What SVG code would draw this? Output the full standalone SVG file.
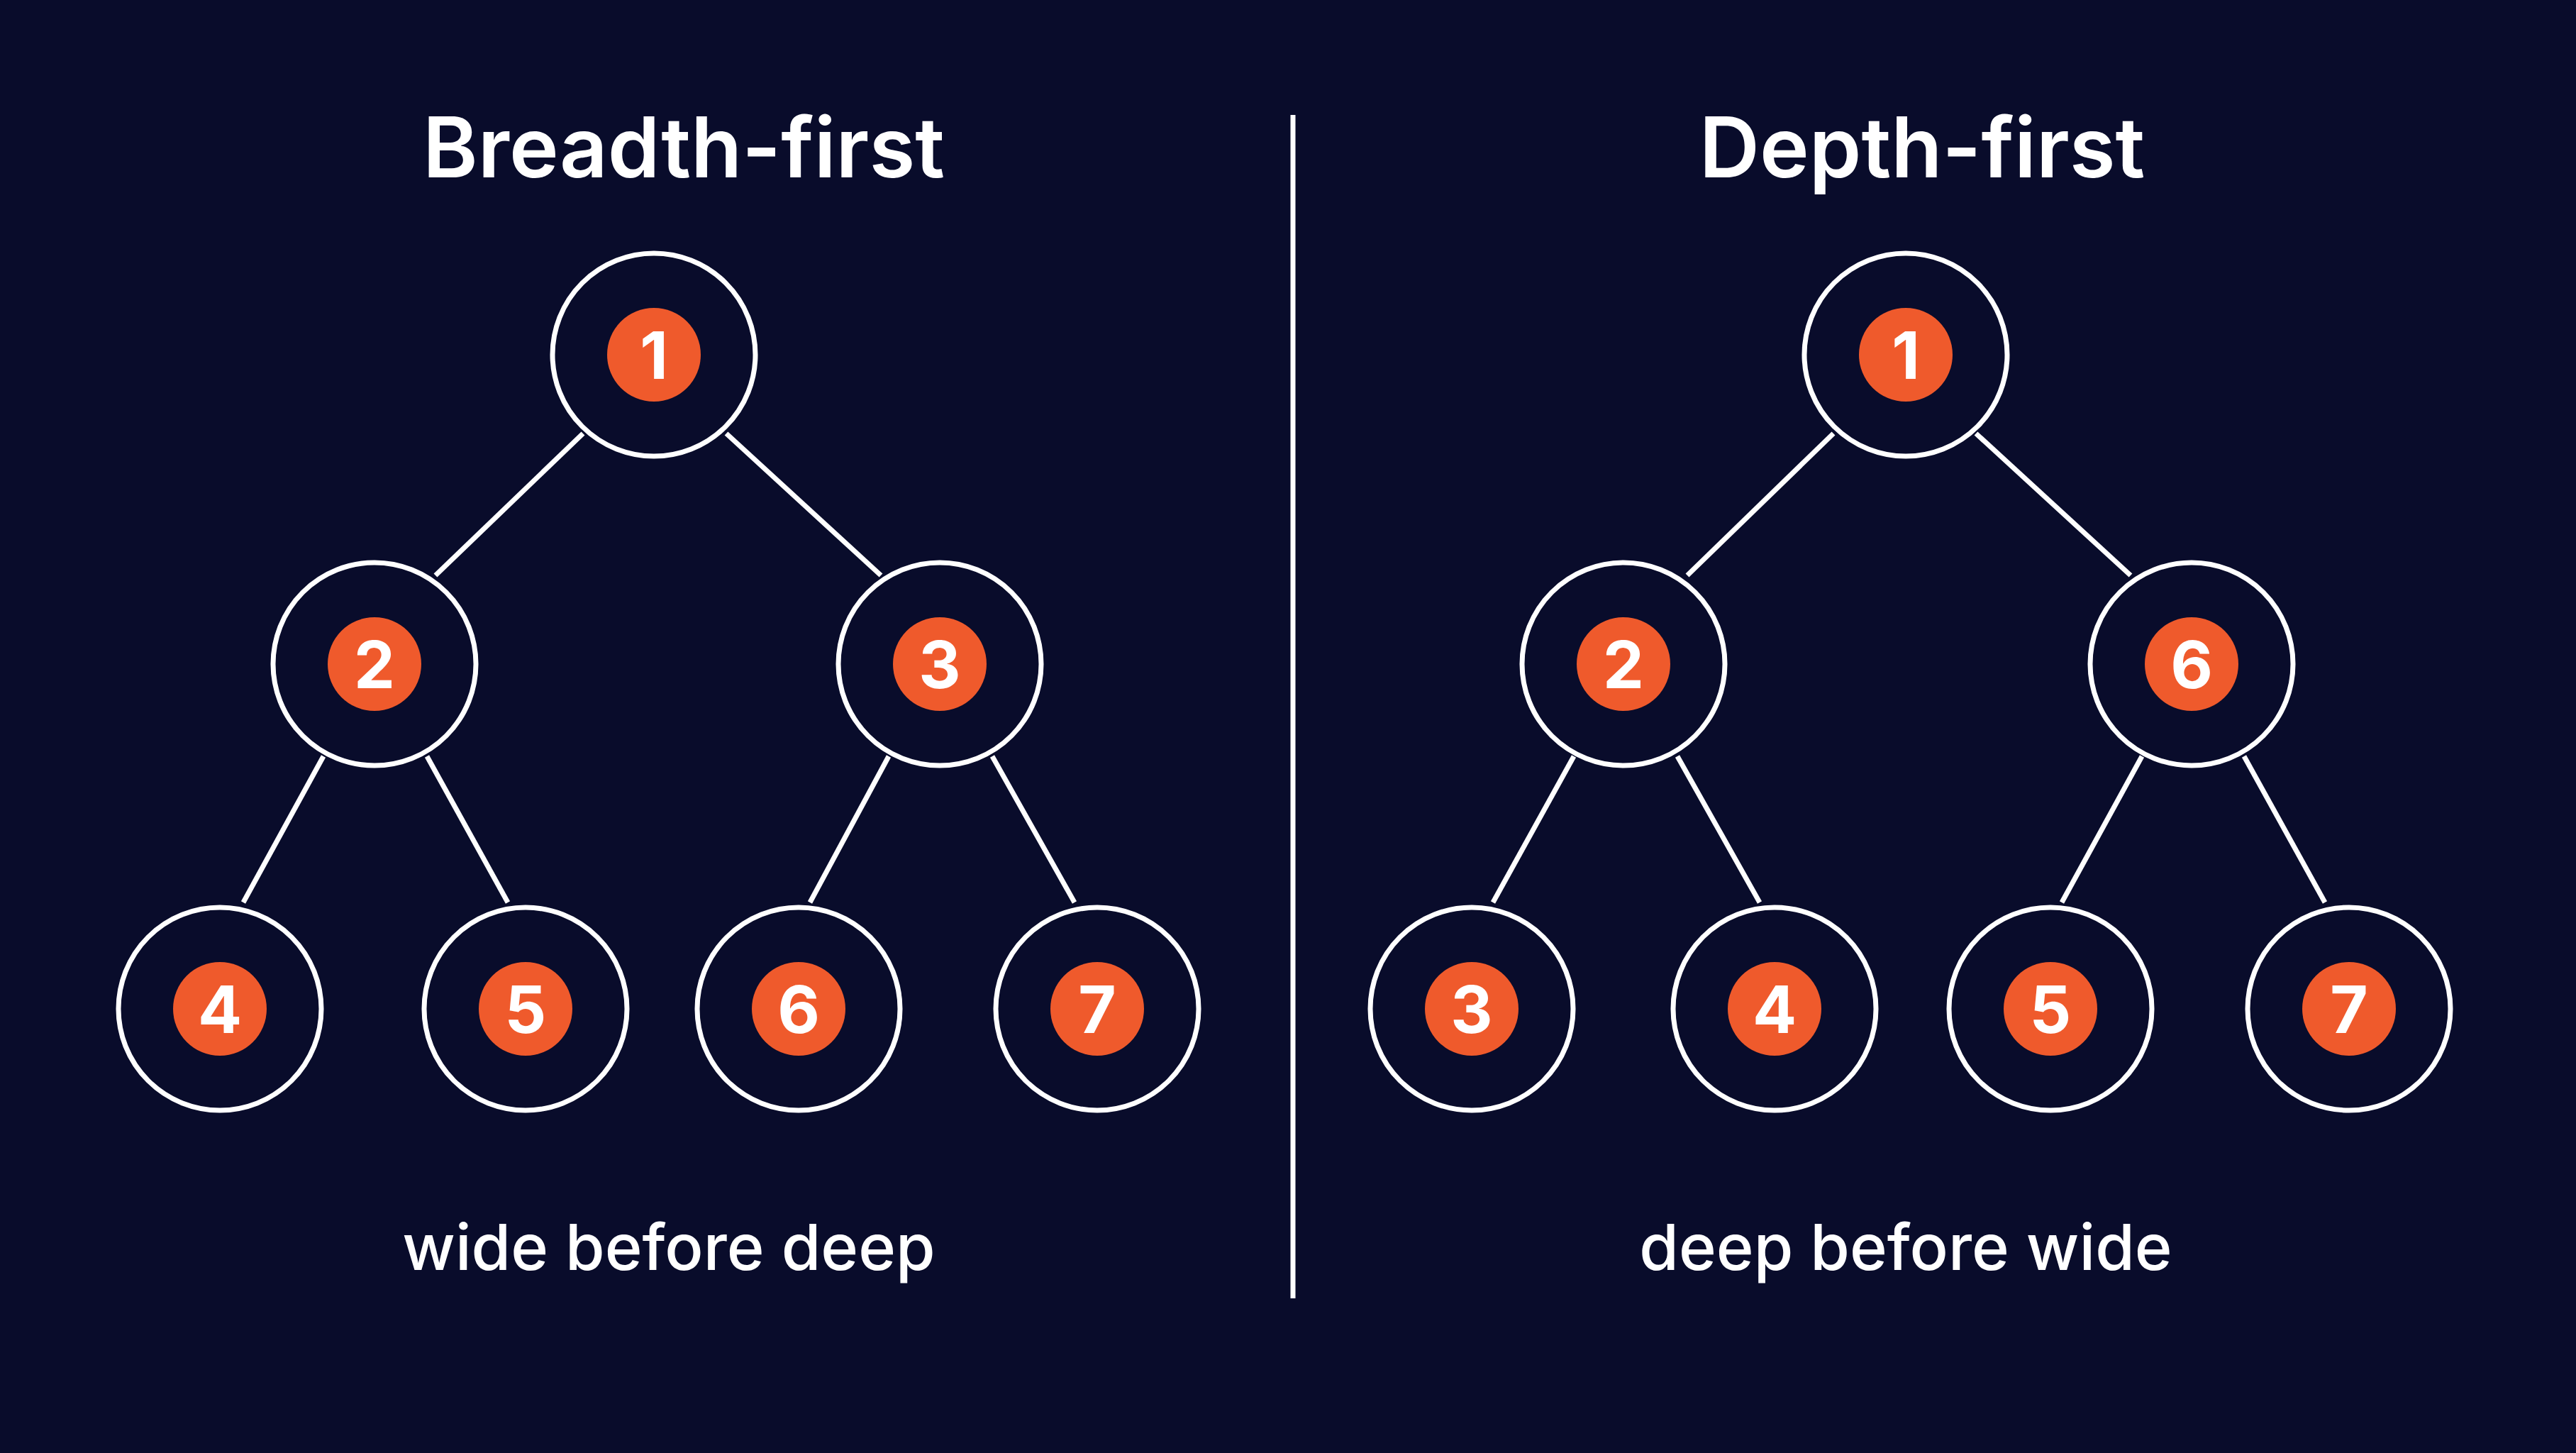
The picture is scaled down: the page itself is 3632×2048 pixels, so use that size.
<svg xmlns="http://www.w3.org/2000/svg" width="3632" height="2048" viewBox="0 0 3632 2048">
<style>
.ring{fill:none;stroke:#fff;stroke-width:7}
.dot{fill:#ef5a2c}
.num{fill:#fff;font-family:Inter,"Liberation Sans",sans-serif;font-weight:700;font-size:92px;text-anchor:middle;dominant-baseline:central}
.title{fill:#fff;font-family:Inter,"Liberation Sans",sans-serif;font-weight:600;font-size:118px;text-anchor:middle}
.cap{fill:#fff;font-family:Inter,"Liberation Sans",sans-serif;font-weight:500;font-size:90px;text-anchor:middle}
.edge{stroke:#fff;stroke-width:7}
</style>
<defs>
<g id="nd"><circle class="ring" r="143"/><circle class="dot" r="66"/></g>
</defs>
<rect width="3632" height="2048" fill="#090c2b"/>
<text class="title" x="964" y="250">Breadth-first</text>
<text class="title" x="2710" y="250">Depth-first</text>
<text class="cap" x="943" y="1790">wide before deep</text>
<text class="cap" x="2687" y="1790">deep before wide</text>
<line x1="1823" y1="162" x2="1823" y2="1830" stroke="#fff" stroke-width="7"/>
<g id="connectors">
<line class="edge" x1="822" y1="611" x2="614" y2="811"/>
<line class="edge" x1="1024" y1="611" x2="1242" y2="811"/>
<line class="edge" x1="456" y1="1066" x2="343" y2="1272"/>
<line class="edge" x1="602" y1="1066" x2="716" y2="1272"/>
<line class="edge" x1="1253" y1="1066" x2="1142" y2="1272"/>
<line class="edge" x1="1399" y1="1066" x2="1515" y2="1272"/>
<line class="edge" x1="2585" y1="611" x2="2379" y2="811"/>
<line class="edge" x1="2786" y1="611" x2="3004" y2="811"/>
<line class="edge" x1="2219" y1="1066" x2="2105" y2="1272"/>
<line class="edge" x1="2365" y1="1066" x2="2481" y2="1272"/>
<line class="edge" x1="3020" y1="1066" x2="2907" y2="1272"/>
<line class="edge" x1="3164" y1="1066" x2="3278" y2="1272"/>
</g>
<g id="b1" transform="translate(922,500)"><use href="#nd"/><text class="num">1</text></g>
<g id="b2" transform="translate(528,936)"><use href="#nd"/><text class="num">2</text></g>
<g id="b3" transform="translate(1325,936)"><use href="#nd"/><text class="num">3</text></g>
<g id="b4" transform="translate(310,1422)"><use href="#nd"/><text class="num">4</text></g>
<g id="b5" transform="translate(741,1422)"><use href="#nd"/><text class="num">5</text></g>
<g id="b6" transform="translate(1126,1422)"><use href="#nd"/><text class="num">6</text></g>
<g id="b7" transform="translate(1547,1422)"><use href="#nd"/><text class="num">7</text></g>
<g id="d1" transform="translate(2687,500)"><use href="#nd"/><text class="num">1</text></g>
<g id="d2" transform="translate(2289,936)"><use href="#nd"/><text class="num">2</text></g>
<g id="d6" transform="translate(3090,936)"><use href="#nd"/><text class="num">6</text></g>
<g id="d3" transform="translate(2075,1422)"><use href="#nd"/><text class="num">3</text></g>
<g id="d4" transform="translate(2502,1422)"><use href="#nd"/><text class="num">4</text></g>
<g id="d5" transform="translate(2891,1422)"><use href="#nd"/><text class="num">5</text></g>
<g id="d7" transform="translate(3312,1422)"><use href="#nd"/><text class="num">7</text></g>
</svg>
